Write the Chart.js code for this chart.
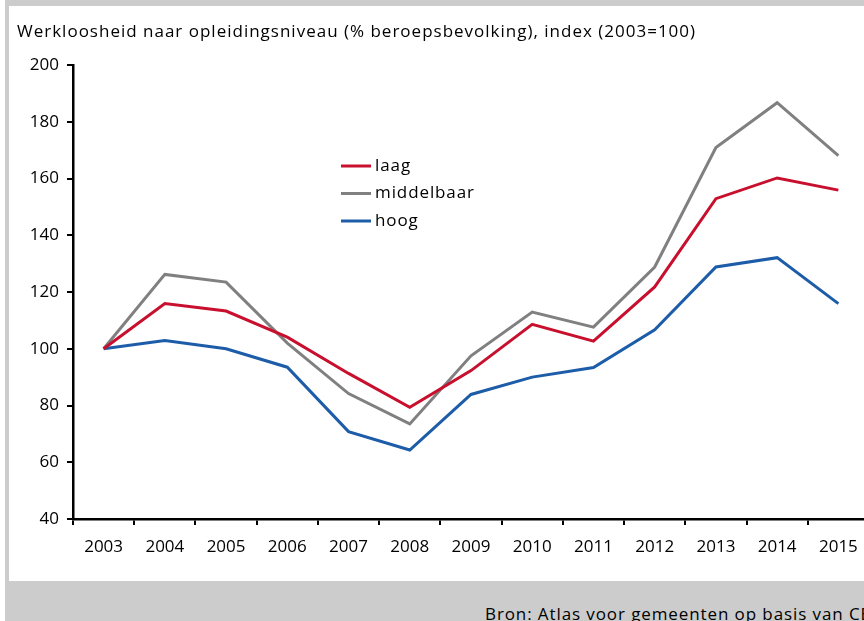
<!DOCTYPE html>
<html><head><meta charset="utf-8">
<script src="https://cdn.jsdelivr.net/npm/chart.js@4.4.1/dist/chart.umd.min.js"></script>
<style>
html,body{margin:0;padding:0;background:#fff;overflow:hidden;width:864px;height:621px;}
#frame{position:absolute;left:5px;top:0;width:900px;height:621px;background:#cccccc;}
#panel{position:absolute;left:9px;top:6px;width:900px;height:575px;background:#fff;}
#wrap{position:absolute;left:9px;top:6px;width:870px;height:575px;}
#src{position:absolute;left:485px;top:604px;font-family:'Open Sans';font-size:17px;line-height:20px;letter-spacing:0.9px;color:#000;white-space:nowrap;}
</style></head><body>
<div id="frame"></div>
<div id="panel"></div>
<div id="wrap"><canvas id="c" width="870" height="575"></canvas></div>
<div id="src">Bron: Atlas voor gemeenten op basis van CBS</div>
<script>
const titleText = 'Werkloosheid naar opleidingsniveau (% beroepsbevolking), index (2003=100)';
const years = ['2003','2004','2005','2006','2007','2008','2009','2010','2011','2012','2013','2014','2015'];
const laag = [100,115.9,113.3,104.1,91.3,79.4,92.3,108.6,102.7,121.8,152.9,160.2,155.9];
const middelbaar = [100,126.2,123.5,102,84.2,73.5,97.5,112.9,107.6,128.8,170.9,186.7,168.1];
const hoog = [100,102.9,100,93.5,70.8,64.3,83.9,90,93.4,106.7,128.8,132.1,115.9];
const yMin = 40, yMax = 200, yStep = 20;

const FONT = 'Open Sans';
Chart.defaults.font.family = FONT;
Chart.defaults.font.size = 17;
Chart.defaults.color = '#000';

// wider letter spacing for the title (drawn before datasets) and legend
const spacingPlugin = {
  id: 'spacing',
  beforeDraw(chart) { chart.ctx.letterSpacing = '1px'; },
  afterDatasetsDraw(chart) { chart.ctx.letterSpacing = '0px'; }
};

const legendPlugin = {
  id: 'customLegend',
  afterDraw(chart) {
    const ctx = chart.ctx;
    const x0 = 332, y0 = 160, dy = 27.5;
    chart.data.datasets.forEach((ds, i) => {
      const y = y0 + i * dy;
      ctx.save();
      ctx.strokeStyle = ds.borderColor;
      ctx.lineWidth = 3;
      ctx.beginPath(); ctx.moveTo(x0, y); ctx.lineTo(x0 + 30, y); ctx.stroke();
      ctx.fillStyle = '#000';
      ctx.font = '17px "' + FONT + '"';
      ctx.letterSpacing = '0.9px';
      ctx.textBaseline = 'middle';
      ctx.textAlign = 'left';
      ctx.fillText(ds.label, x0 + 34, y);
      ctx.restore();
    });
  }
};

new Chart(document.getElementById('c'), {
  type: 'line',
  data: {
    labels: years,
    datasets: [
      {label: 'laag', data: laag, borderColor: '#c8102e', borderWidth: 3, pointRadius: 0, tension: 0, fill: false},
      {label: 'middelbaar', data: middelbaar, borderColor: '#808080', borderWidth: 3, pointRadius: 0, tension: 0, fill: false},
      {label: 'hoog', data: hoog, borderColor: '#1c5ca8', borderWidth: 3, pointRadius: 0, tension: 0, fill: false}
    ]
  },
  options: {
    responsive: false,
    devicePixelRatio: 1,
    animation: false,
    layout: {padding: {left: 8, right: 10, top: 0, bottom: 0}},
    plugins: {
      legend: {display: false},
      tooltip: {enabled: false},
      title: {
        display: true, text: titleText, align: 'start', color: '#000',
        font: {size: 17, weight: 'normal', lineHeight: 1.2},
        padding: {top: 16, bottom: 22.6}
      }
    },
    scales: {
      x: {
        offset: true,
        grid: {display: true, offset: true, drawOnChartArea: false, drawTicks: true, tickLength: 6, color: '#000', lineWidth: 2},
        border: {display: true, color: '#000', width: 2.5},
        ticks: {z: 1, color: '#000', padding: 12, maxRotation: 0, autoSkip: false, font: {size: 17}},
        afterFit(s) { s.height = 62; }
      },
      y: {
        min: yMin, max: yMax,
        grid: {display: true, drawOnChartArea: false, drawTicks: true, tickLength: 6, color: '#000', lineWidth: 2},
        border: {display: true, color: '#000', width: 2.5},
        ticks: {z: 1, stepSize: yStep, color: '#000', padding: 8, font: {size: 17}},
        afterFit(s) { s.width = 56; }
      }
    }
  },
  plugins: [spacingPlugin, legendPlugin]
});
</script>
</body></html>
